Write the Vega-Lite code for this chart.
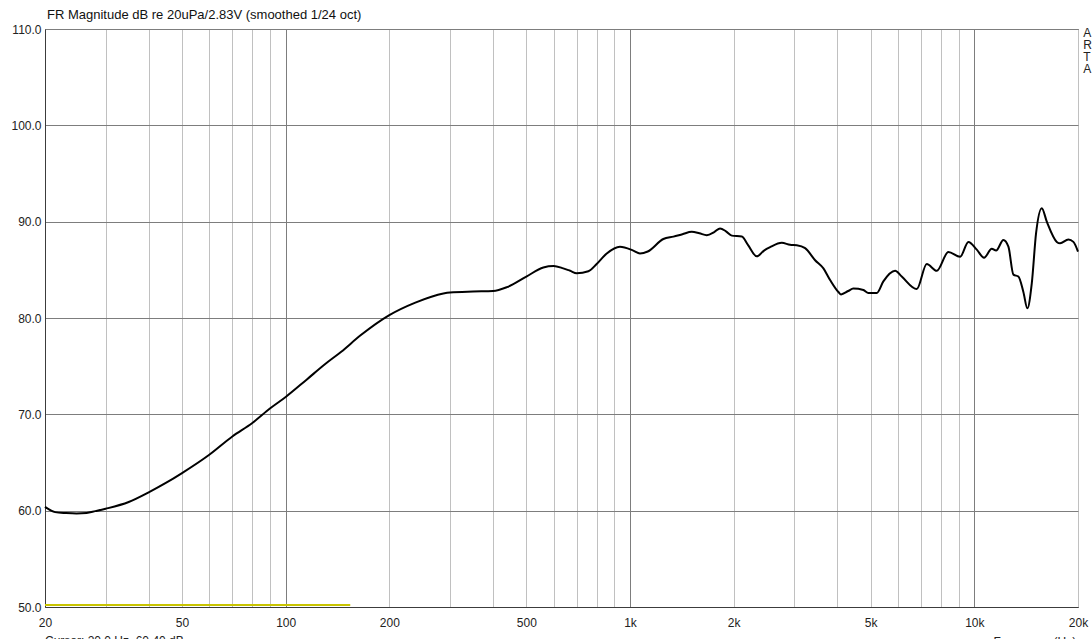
{
  "$schema": "https://vega.github.io/schema/vega-lite/v6.json",
  "width": 1033,
  "height": 578,
  "autosize": {"type": "none"},
  "padding": {"left": 45, "top": 29, "right": 14, "bottom": 32},
  "background": "#ffffff",
  "config": {
    "font": "Liberation Sans",
    "view": {"stroke": "#3c3c3c", "strokeWidth": 1}
  },
  "title": {
    "text": "FR Magnitude dB re 20uPa/2.83V (smoothed 1/24 oct)",
    "anchor": "start",
    "frame": "group",
    "font": "Liberation Sans",
    "fontSize": 13,
    "fontWeight": "normal",
    "color": "#111111",
    "baseline": "alphabetic",
    "offset": -8.5,
    "dx": 2
  },
  "datasets": {
    "fr": [
      {"f": 20, "db": 60.4},
      {"f": 21.4, "db": 59.85},
      {"f": 23, "db": 59.75},
      {"f": 24.7, "db": 59.7},
      {"f": 26.4, "db": 59.75},
      {"f": 28, "db": 59.95},
      {"f": 30, "db": 60.2},
      {"f": 35, "db": 60.9},
      {"f": 40, "db": 61.9},
      {"f": 45, "db": 62.9},
      {"f": 50, "db": 63.9},
      {"f": 60, "db": 65.8},
      {"f": 70, "db": 67.7},
      {"f": 80, "db": 69.1},
      {"f": 90, "db": 70.6},
      {"f": 100, "db": 71.8},
      {"f": 115, "db": 73.6},
      {"f": 130, "db": 75.2},
      {"f": 145, "db": 76.5},
      {"f": 165, "db": 78.2},
      {"f": 200, "db": 80.3},
      {"f": 238, "db": 81.6},
      {"f": 287, "db": 82.55},
      {"f": 300, "db": 82.65},
      {"f": 350, "db": 82.75},
      {"f": 400, "db": 82.8},
      {"f": 439, "db": 83.2},
      {"f": 500, "db": 84.3},
      {"f": 560, "db": 85.25},
      {"f": 600, "db": 85.4},
      {"f": 640, "db": 85.15},
      {"f": 670, "db": 84.9},
      {"f": 700, "db": 84.65},
      {"f": 757, "db": 84.85},
      {"f": 800, "db": 85.6},
      {"f": 856, "db": 86.7},
      {"f": 935, "db": 87.4},
      {"f": 1022, "db": 87.0},
      {"f": 1069, "db": 86.7},
      {"f": 1126, "db": 86.9},
      {"f": 1250, "db": 88.2},
      {"f": 1337, "db": 88.45},
      {"f": 1420, "db": 88.7},
      {"f": 1511, "db": 88.95},
      {"f": 1590, "db": 88.8},
      {"f": 1671, "db": 88.6},
      {"f": 1760, "db": 88.95},
      {"f": 1826, "db": 89.3},
      {"f": 1900, "db": 89.0},
      {"f": 1975, "db": 88.55},
      {"f": 2112, "db": 88.45},
      {"f": 2200, "db": 87.6},
      {"f": 2335, "db": 86.4},
      {"f": 2450, "db": 87.0},
      {"f": 2552, "db": 87.35},
      {"f": 2759, "db": 87.8},
      {"f": 2916, "db": 87.6},
      {"f": 3050, "db": 87.55},
      {"f": 3225, "db": 87.25},
      {"f": 3448, "db": 86.0},
      {"f": 3645, "db": 85.15},
      {"f": 3811, "db": 83.95},
      {"f": 4029, "db": 82.7},
      {"f": 4100, "db": 82.45},
      {"f": 4300, "db": 82.8},
      {"f": 4452, "db": 83.05},
      {"f": 4762, "db": 82.9},
      {"f": 4924, "db": 82.6},
      {"f": 5208, "db": 82.6},
      {"f": 5442, "db": 83.8},
      {"f": 5886, "db": 84.9},
      {"f": 6154, "db": 84.3},
      {"f": 6804, "db": 83.0},
      {"f": 7274, "db": 85.6},
      {"f": 7778, "db": 84.9},
      {"f": 8406, "db": 86.85},
      {"f": 9092, "db": 86.35},
      {"f": 9610, "db": 87.9},
      {"f": 10164, "db": 87.1},
      {"f": 10672, "db": 86.25},
      {"f": 11236, "db": 87.2},
      {"f": 11566, "db": 87.0},
      {"f": 12144, "db": 88.1},
      {"f": 12558, "db": 87.4},
      {"f": 12986, "db": 84.5},
      {"f": 13426, "db": 84.3},
      {"f": 13880, "db": 82.7},
      {"f": 14256, "db": 81.0},
      {"f": 14682, "db": 83.6},
      {"f": 15110, "db": 88.8},
      {"f": 15698, "db": 91.4},
      {"f": 16234, "db": 90.0},
      {"f": 17356, "db": 87.9},
      {"f": 17744, "db": 87.75},
      {"f": 18756, "db": 88.15},
      {"f": 19392, "db": 87.9},
      {"f": 20000, "db": 86.9}
    ],
    "gen": [
      {"f1": 20, "f2": 154, "db": 50.2}
    ],
    "notes": [
      {"f": 20, "db": 46.95, "label": "Cursor: 20.0 Hz, 60.40 dB"}
    ],
    "brand": [
      {"f": 20700, "db": 110.1, "label": "A\nR\nT\nA"}
    ]
  },
  "layer": [
    {
      "data": {"name": "fr"},
      "mark": {"type": "line", "color": "#000000", "strokeWidth": 2, "interpolate": "monotone"},
      "encoding": {
        "x": {
          "field": "f",
          "type": "quantitative",
          "scale": {"type": "log", "domain": [20, 20000], "nice": false},
          "axis": {
            "values": [20, 30, 40, 50, 60, 70, 80, 90, 100, 200, 300, 400, 500, 600, 700, 800, 900, 1000, 2000, 3000, 4000, 5000, 6000, 7000, 8000, 9000, 10000, 20000],
            "labelExpr": "indexof([20, 50, 100, 200, 500, 1000, 2000, 5000, 10000, 20000], datum.value) >= 0 ? (datum.value >= 1000 ? (datum.value / 1000) + 'k' : '' + datum.value) : ''",
            "ticks": false,
            "labelPadding": 10,
            "labelFont": "Liberation Sans",
            "labelFontSize": 12,
            "labelColor": "#222222",
            "labelFlush": false,
            "labelOverlap": false,
            "grid": true,
            "gridColor": {"condition": {"test": "datum.value === 100 || datum.value === 1000 || datum.value === 10000", "value": "#7d7d7d"}, "value": "#c0c0c0"},
            "gridWidth": 1,
            "domainColor": "#3c3c3c",
            "title": "Frequency (Hz)",
            "titleFont": "Liberation Sans",
            "titleFontSize": 12,
            "titleFontWeight": "normal",
            "titleColor": "#222222",
            "titleAnchor": "start",
            "titleAlign": "left",
            "titleBaseline": "top",
            "titleX": 948,
            "titleY": 29
          }
        },
        "y": {
          "field": "db",
          "type": "quantitative",
          "scale": {"domain": [50, 110], "nice": false, "zero": false},
          "axis": {
            "values": [50, 60, 70, 80, 90, 100, 110],
            "format": ".1f",
            "ticks": false,
            "labelPadding": 4,
            "labelFont": "Liberation Sans",
            "labelFontSize": 12,
            "labelColor": "#222222",
            "labelFlush": false,
            "labelOverlap": false,
            "grid": true,
            "gridColor": "#7d7d7d",
            "gridWidth": 1,
            "domainColor": "#3c3c3c",
            "title": null
          }
        }
      }
    },
    {
      "data": {"name": "gen"},
      "mark": {"type": "rule", "color": "#c8c400", "strokeWidth": 2},
      "encoding": {
        "x": {"field": "f1", "type": "quantitative"},
        "x2": {"field": "f2"},
        "y": {"field": "db", "type": "quantitative"}
      }
    },
    {
      "data": {"name": "notes"},
      "mark": {"type": "text", "align": "left", "baseline": "top", "font": "Liberation Sans", "fontSize": 12, "color": "#222222", "clip": false},
      "encoding": {
        "x": {"field": "f", "type": "quantitative"},
        "y": {"field": "db", "type": "quantitative"},
        "text": {"field": "label"}
      }
    },
    {
      "data": {"name": "brand"},
      "mark": {"type": "text", "align": "left", "baseline": "top", "font": "Liberation Sans", "fontSize": 12, "lineHeight": 12, "color": "#222222", "clip": false, "lineBreak": "\n"},
      "encoding": {
        "x": {"field": "f", "type": "quantitative"},
        "y": {"field": "db", "type": "quantitative"},
        "text": {"field": "label"}
      }
    }
  ]
}
